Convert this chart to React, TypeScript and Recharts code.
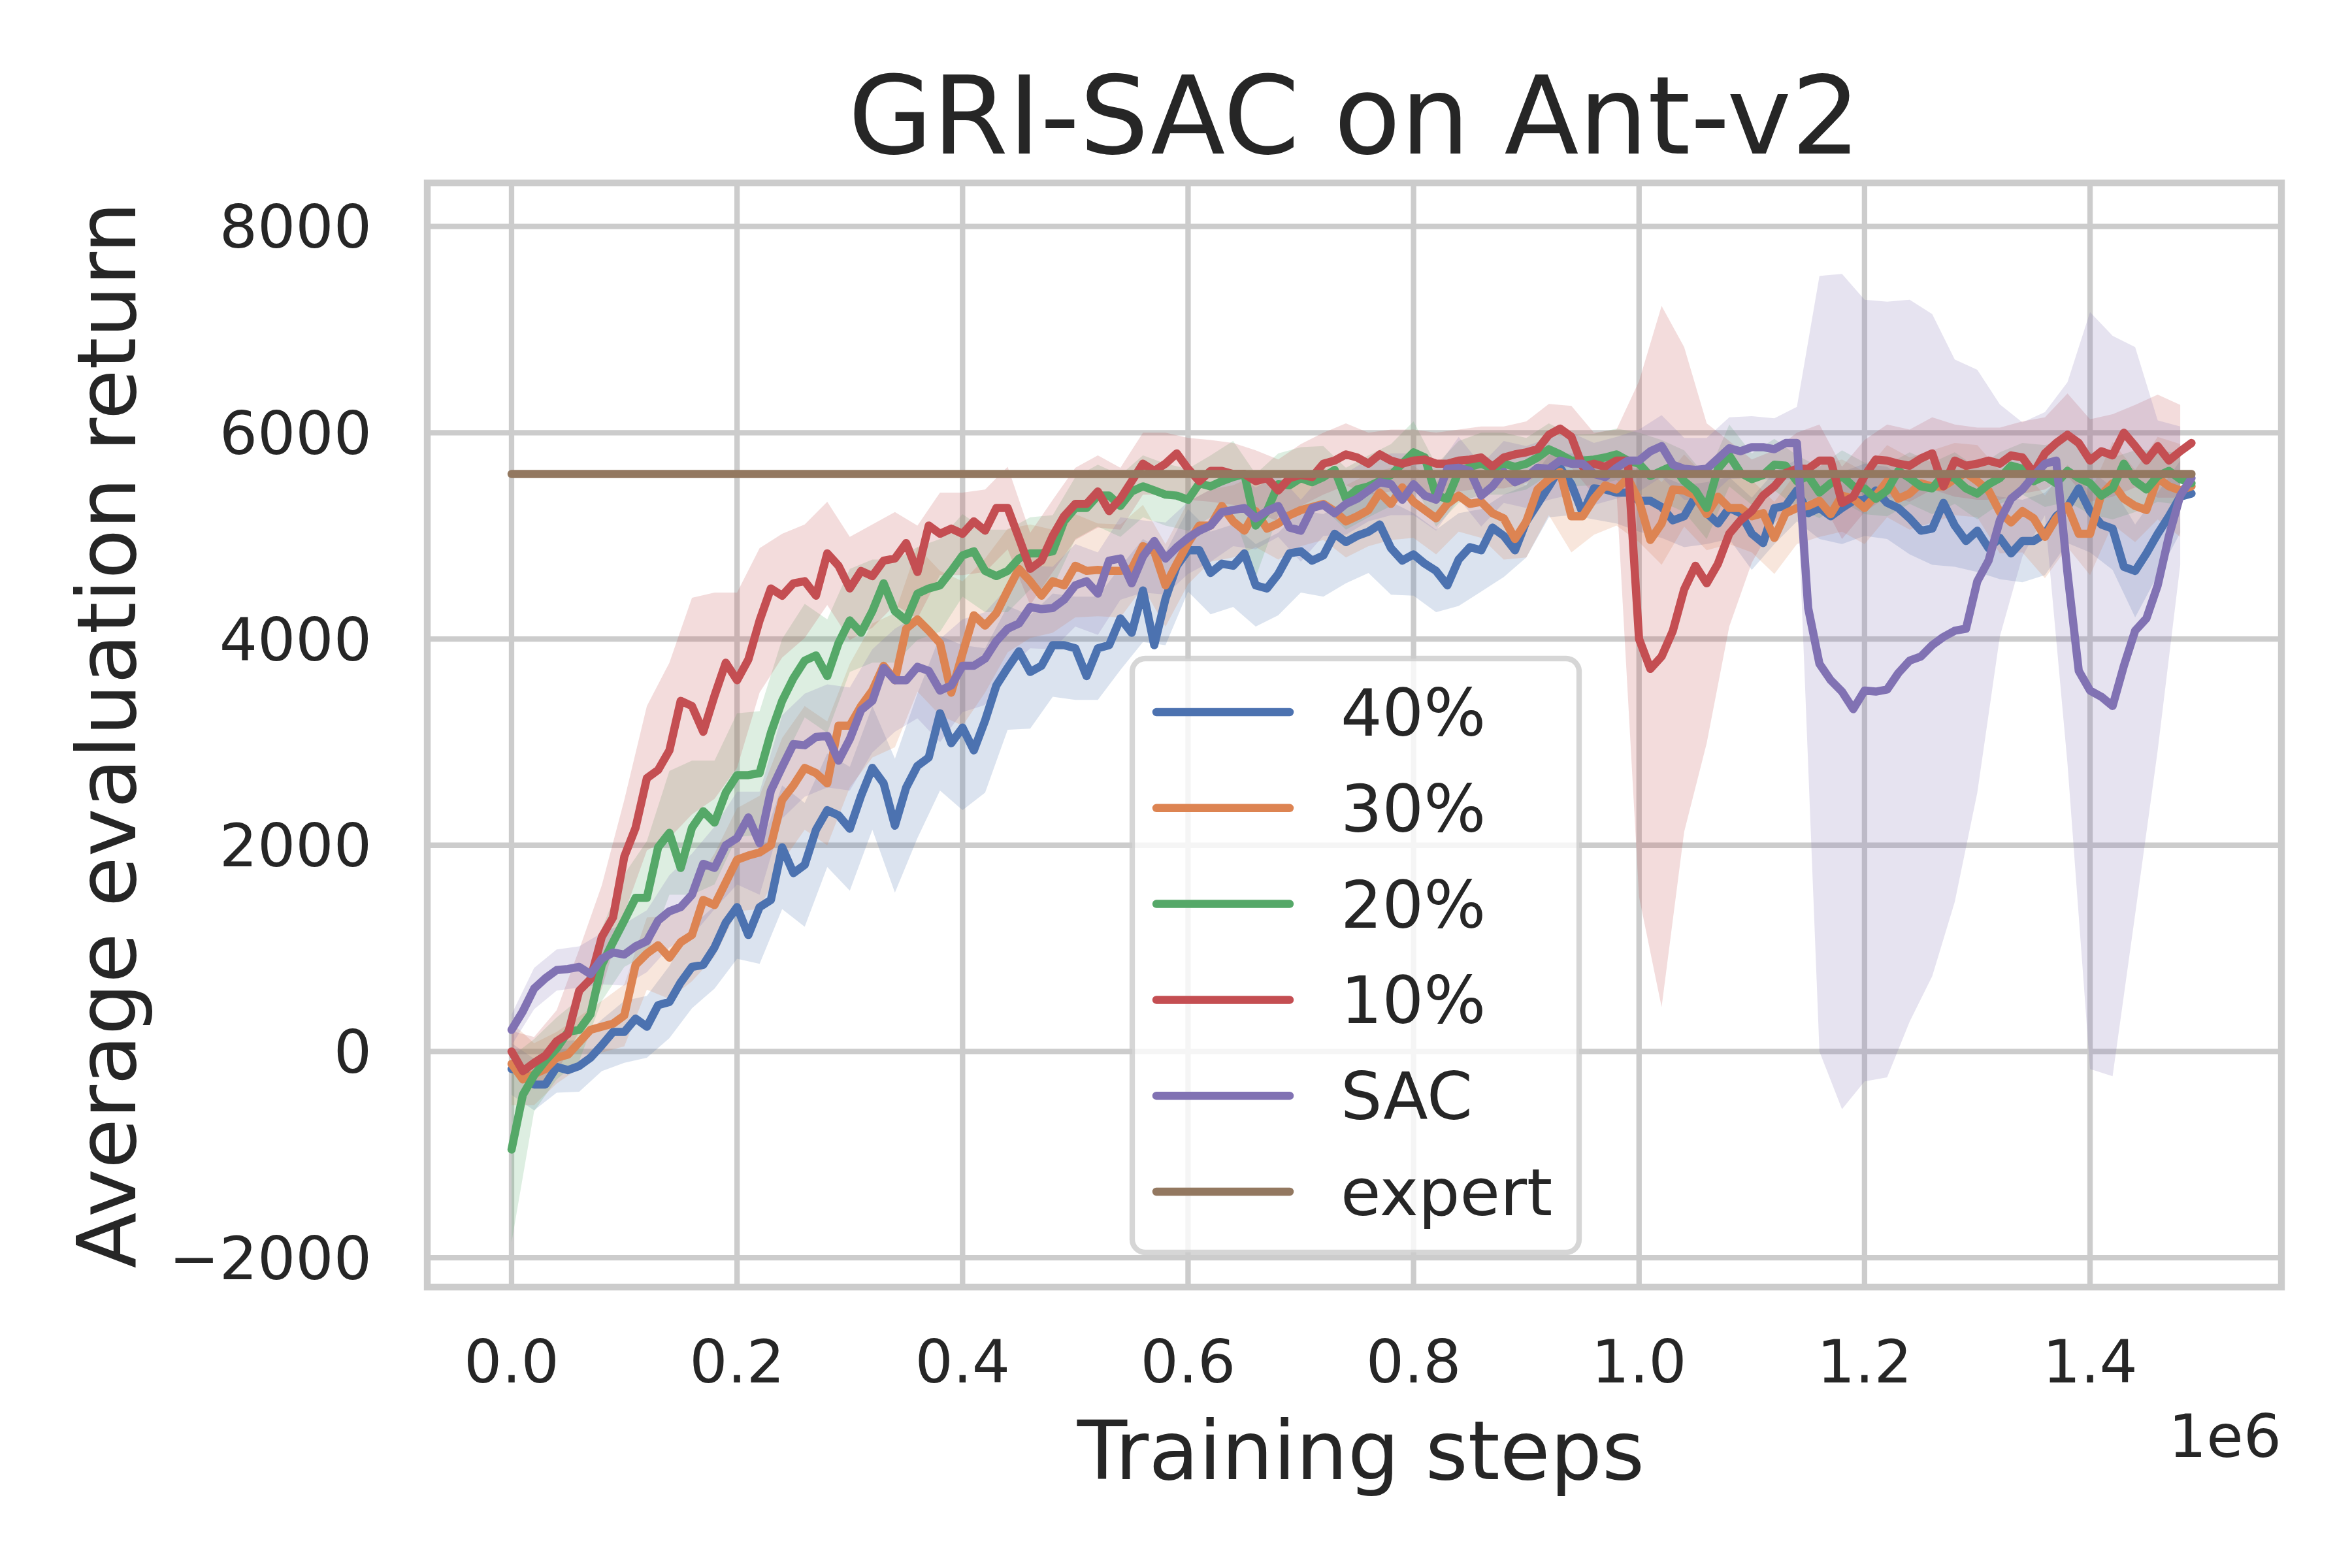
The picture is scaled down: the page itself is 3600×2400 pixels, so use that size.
import { Fragment } from "react";
import { Area, CartesianGrid, ComposedChart, Line, XAxis, YAxis } from "recharts";

// evaluation every 10k steps, 0 .. 1.49e6
const steps = Array.from({ length: 150 }, (_, i) => i * 10000);

const ret40 = [
  -170, -180, -320, -320, -150, -180, -140, -60, 60, 190,
  190, 320, 240, 450, 480, 670, 820, 840, 1010, 1250,
  1400, 1130, 1400, 1470, 1980, 1730, 1810, 2150, 2340, 2290,
  2160, 2480, 2750, 2600, 2190, 2560, 2770, 2850, 3280, 2990,
  3140, 2920, 3210, 3550, 3720, 3880, 3680, 3740, 3940, 3940,
  3910, 3640, 3910, 3940, 4200, 4060, 4470, 3940, 4390, 4710,
  4860, 4860, 4640, 4730, 4710, 4830, 4520, 4490, 4630, 4830,
  4850, 4760, 4810, 5020, 4940, 5000, 5040, 5110, 4880, 4760,
  4820, 4730, 4660, 4520, 4770, 4890, 4860, 5080, 5000, 4860,
  5140, 5310, 5480, 5660, 5500, 5220, 5460, 5450, 5420, 5420,
  5340, 5340, 5280, 5150, 5190, 5380, 5220, 5120, 5270, 5220,
  5020, 4930, 5270, 5290, 5440, 5220, 5270, 5190, 5270, 5340,
  5350, 5440, 5320, 5270, 5170, 5050, 5070, 5320, 5100, 4950,
  5050, 4880, 4980, 4830, 4950, 4950, 5020, 5190, 5280, 5460,
  5240, 5110, 5070, 4700, 4660, 4830, 5020, 5190, 5380, 5410,
];

const ret30 = [
  -120, -270, -220, -170, -60, -30, 90, 210, 240, 270,
  350, 840, 950, 1030, 910, 1060, 1130, 1470, 1420, 1640,
  1860, 1900, 1930, 2000, 2440, 2580, 2750, 2700, 2600, 3160,
  3160, 3350, 3500, 3740, 3600, 4100, 4190, 4080, 3960, 3480,
  3860, 4230, 4130, 4250, 4470, 4680, 4560, 4420, 4560, 4520,
  4710, 4660, 4670, 4660, 4660, 4680, 4900, 4850, 4520, 4730,
  4930, 5100, 5100, 5290, 5140, 5050, 5240, 5070, 5120, 5200,
  5250, 5280, 5310, 5240, 5140, 5190, 5250, 5420, 5310, 5470,
  5330, 5250, 5170, 5310, 5390, 5310, 5330, 5220, 5170, 4970,
  5140, 5450, 5550, 5620, 5190, 5190, 5360, 5490, 5450, 5560,
  5340, 4960, 5120, 5450, 5440, 5390, 5210, 5380, 5270, 5270,
  5190, 5220, 4980, 5220, 5270, 5290, 5340, 5210, 5390, 5360,
  5270, 5390, 5530, 5360, 5410, 5510, 5480, 5480, 5550, 5610,
  5530, 5440, 5230, 5130, 5240, 5170, 4990, 5170, 5290, 5020,
  5020, 5400, 5510, 5360, 5290, 5250, 5560, 5480, 5440, 5480,
];

const ret20 = [
  -950, -420, -230, -90, 30, 190, 210, 360, 840, 1060,
  1270, 1490, 1490, 1980, 2120, 1780, 2170, 2330, 2220, 2510,
  2680, 2680, 2700, 3090, 3400, 3620, 3790, 3840, 3640, 3960,
  4180, 4060, 4270, 4540, 4270, 4180, 4440, 4490, 4520, 4660,
  4810, 4850, 4660, 4610, 4660, 4780, 4830, 4830, 4850, 5140,
  5270, 5270, 5390, 5390, 5290, 5430, 5480, 5440, 5400, 5390,
  5350, 5510, 5480, 5530, 5570, 5600, 5100, 5240, 5500, 5490,
  5560, 5520, 5570, 5640, 5360, 5450, 5480, 5530, 5590, 5700,
  5810, 5760, 5390, 5360, 5620, 5670, 5700, 5650, 5700, 5670,
  5700, 5760, 5840, 5790, 5730, 5730, 5740, 5760, 5790, 5730,
  5700, 5580, 5630, 5680, 5530, 5440, 5270, 5650, 5780, 5610,
  5550, 5590, 5690, 5680, 5530, 5580, 5420, 5510, 5580, 5480,
  5460, 5360, 5440, 5630, 5560, 5480, 5460, 5590, 5560, 5460,
  5410, 5500, 5560, 5680, 5650, 5530, 5580, 5510, 5630, 5560,
  5510, 5390, 5460, 5700, 5530, 5450, 5580, 5630, 5550, 5510,
];

const ret10 = [
  0, -190, -110, -40, 100, 170, 590, 700, 1110, 1300,
  1890, 2170, 2650, 2730, 2920, 3400, 3350, 3100, 3450, 3770,
  3600, 3800, 4180, 4490, 4420, 4540, 4560, 4420, 4830, 4710,
  4490, 4660, 4610, 4760, 4780, 4930, 4650, 5100, 5020, 5070,
  5020, 5140, 5050, 5270, 5270, 4980, 4680, 4760, 5000, 5190,
  5310, 5310, 5430, 5240, 5360, 5530, 5700, 5630, 5700, 5800,
  5650, 5530, 5630, 5630, 5600, 5600, 5530, 5560, 5440, 5560,
  5590, 5570, 5700, 5730, 5790, 5760, 5700, 5790, 5730, 5700,
  5730, 5740, 5700, 5700, 5730, 5740, 5760, 5670, 5760, 5790,
  5810, 5840, 5980, 6040, 5960, 5670, 5700, 5670, 5730, 5730,
  4000, 3710, 3830, 4080, 4480, 4710, 4540, 4730, 5020, 5150,
  5240, 5390, 5480, 5610, 5650, 5650, 5730, 5730, 5320, 5380,
  5580, 5740, 5730, 5700, 5680, 5750, 5800, 5480, 5730, 5680,
  5700, 5730, 5700, 5780, 5760, 5610, 5800, 5900, 5980, 5900,
  5730, 5820, 5780, 6000, 5870, 5730, 5870, 5730, 5820, 5900,
];

const retSac = [
  210, 390, 610, 710, 790, 800, 820, 750, 900, 960,
  940, 1020, 1070, 1270, 1360, 1400, 1520, 1820, 1780, 2000,
  2070, 2270, 2020, 2530, 2760, 2980, 2970, 3050, 3060, 2820,
  3030, 3310, 3400, 3720, 3600, 3600, 3730, 3690, 3500, 3550,
  3740, 3740, 3810, 3980, 4100, 4150, 4310, 4290, 4300, 4380,
  4520, 4560, 4440, 4760, 4780, 4540, 4800, 4950, 4780, 4890,
  4980, 5050, 5100, 5230, 5250, 5270, 5170, 5240, 5290, 5080,
  5050, 5270, 5300, 5220, 5310, 5360, 5440, 5520, 5500, 5350,
  5500, 5390, 5350, 5650, 5660, 5630, 5390, 5480, 5620, 5520,
  5570, 5660, 5650, 5730, 5700, 5700, 5600, 5570, 5660, 5730,
  5730, 5820, 5870, 5690, 5650, 5640, 5650, 5750, 5850, 5820,
  5860, 5860, 5840, 5900, 5900, 4300, 3760, 3600, 3490, 3320,
  3500, 3490, 3510, 3670, 3790, 3830, 3940, 4020, 4080, 4100,
  4560, 4760, 5150, 5360, 5450, 5580, 5700, 5730, 4640, 3690,
  3500, 3440, 3350, 3740, 4080, 4200, 4520, 5000, 5390, 5560,
];

// spread of the seeds, every 20k steps
const sd40 = [
  250, 250, 250, 250, 250, 300, 300, 350, 400, 400,
  500, 550, 600, 600, 550, 600, 600, 650, 700, 750,
  800, 700, 600, 550, 500, 500, 500, 500, 500, 450,
  400, 400, 400, 400, 400, 400, 400, 400, 400, 450,
  400, 400, 450, 400, 400, 350, 300, 300, 300, 300,
  300, 300, 300, 300, 300, 350, 350, 300, 300, 350,
  350, 350, 350, 350, 400, 400, 400, 400, 400, 350,
  400, 400, 450, 400, 350,
];
const sd30 = [
  400, 300, 250, 250, 250, 300, 350, 400, 450, 500,
  500, 550, 600, 600, 600, 600, 650, 650, 700, 700,
  700, 650, 600, 550, 500, 500, 450, 450, 400, 400,
  400, 350, 350, 350, 350, 350, 350, 350, 350, 350,
  350, 350, 350, 350, 400, 350, 350, 350, 350, 350,
  400, 400, 350, 350, 350, 350, 350, 350, 350, 350,
  350, 350, 350, 350, 350, 350, 400, 400, 400, 400,
  400, 400, 350, 400, 450,
];
const sd20 = [
  900, 350, 300, 300, 350, 450, 550, 600, 650, 600,
  600, 600, 600, 550, 550, 500, 500, 500, 450, 450,
  400, 400, 400, 350, 350, 300, 300, 300, 300, 300,
  300, 300, 350, 500, 300, 300, 300, 300, 300, 300,
  300, 300, 300, 300, 300, 250, 250, 250, 250, 250,
  300, 300, 300, 300, 300, 250, 250, 250, 250, 250,
  250, 250, 250, 250, 250, 250, 250, 250, 300, 300,
  300, 300, 300, 250, 250,
];
const sd10 = [
  200, 250, 300, 400, 500, 550, 700, 850, 1050, 1000,
  850, 700, 600, 550, 500, 500, 500, 450, 450, 400,
  400, 400, 400, 350, 350, 350, 350, 300, 300, 300,
  300, 300, 300, 300, 300, 300, 300, 300, 300, 300,
  300, 300, 300, 300, 300, 300, 300, 300, 300, 300,
  2500, 3400, 2350, 1550, 900, 500, 350, 350, 350, 350,
  350, 350, 350, 350, 350, 350, 350, 350, 350, 400,
  400, 400, 400, 500, 450,
];
const sdSac = [
  150, 200, 200, 200, 250, 300, 300, 350, 400, 400,
  450, 500, 500, 500, 500, 500, 500, 500, 500, 500,
  450, 450, 400, 400, 400, 400, 400, 400, 350, 350,
  350, 350, 350, 300, 300, 300, 300, 300, 300, 300,
  300, 300, 300, 300, 300, 300, 300, 300, 300, 300,
  300, 300, 300, 300, 300, 300, 300, 350, 3760, 4050,
  3790, 3760, 3500, 3210, 2630, 2050, 1125, 650, 500, 1850,
  3670, 3590, 2750, 1600, 670,
];

const expertReturn = 5600;

const seriesNames = ["40%", "30%", "20%", "10%", "SAC"];
const seriesColors = ["#4c72b0", "#dd8452", "#55a868", "#c44e52", "#8172b3"];
const expertColor = "#937860";
const means = [ret40, ret30, ret20, ret10, retSac];
const spreads = [sd40, sd30, sd20, sd10, sdSac];

const xTicks = [0, 200000, 400000, 600000, 800000, 1000000, 1200000, 1400000];
const yTicks = [-2000, 0, 2000, 4000, 6000, 8000];

const rows = steps.map((x, i) => {
  const row: Record<string, number | number[]> = { x, expert: expertReturn };
  means.forEach((m, j) => {
    row[`m${j}`] = m[i];
    if (i % 2 === 0) {
      const sd = spreads[j][i / 2];
      row[`b${j}`] = [m[i] - sd, m[i] + sd];
    }
  });
  return row;
});

const FONT = "DejaVu Sans";
const INK = "#262626";
const LW = 12.5;

// plot box, in page pixels
const PLOT = { left: 654, top: 280, right: 3492, bottom: 1970 };
const legendItems = [
  ...seriesNames.map((name, j) => ({ name, color: seriesColors[j] })),
  { name: "expert", color: expertColor },
];

const fmtX = (v: number) => (v / 1e6).toFixed(1);
const fmtY = (v: number) => (v < 0 ? `\u2212${Math.abs(v)}` : `${v}`);

export default function App() {
  const cx = (PLOT.left + PLOT.right) / 2;
  const cy = (PLOT.top + PLOT.bottom) / 2;
  return (
    <div style={{ position: "absolute", left: 0, top: 0, width: 3600, height: 2400, background: "#fff" }}>
      <ComposedChart
        width={3600}
        height={2400}
        data={rows}
        margin={{ top: PLOT.top, right: 3600 - PLOT.right, bottom: 2400 - PLOT.bottom - 200, left: PLOT.left - 200 }}
      >
        <CartesianGrid stroke="#cccccc" strokeWidth={8.3} />
        <XAxis
          dataKey="x"
          type="number"
          domain={[-74750, 1569750]}
          allowDataOverflow
          ticks={xTicks}
          tickFormatter={fmtX}
          height={200}
          tickSize={0}
          tickMargin={81}
          axisLine={false}
          tickLine={false}
          tick={{ fontSize: 91.7, fill: INK, fontFamily: FONT }}
        />
        <YAxis
          type="number"
          domain={[-2284, 8422]}
          allowDataOverflow
          ticks={yTicks}
          tickFormatter={fmtY}
          width={200}
          tickSize={0}
          tickMargin={85}
          axisLine={false}
          tickLine={false}
          tick={{ fontSize: 91.7, fill: INK, fontFamily: FONT }}
        />
        {seriesNames.map((name, j) => (
          <Fragment key={name}>
            <Area
              dataKey={`b${j}`}
              type="linear"
              fill={seriesColors[j]}
              fillOpacity={0.2}
              stroke="none"
              connectNulls
              dot={false}
              activeDot={false}
              legendType="none"
              isAnimationActive={false}
            />
            <Line
              dataKey={`m${j}`}
              name={name}
              type="linear"
              stroke={seriesColors[j]}
              strokeWidth={LW}
              strokeLinejoin="round"
              strokeLinecap="round"
              dot={false}
              activeDot={false}
              isAnimationActive={false}
            />
          </Fragment>
        ))}
        <Line
          dataKey="expert"
          name="expert"
          type="linear"
          stroke={expertColor}
          strokeWidth={LW}
          strokeLinecap="round"
          dot={false}
          activeDot={false}
          isAnimationActive={false}
        />
      </ComposedChart>

      <svg
        width={3600}
        height={2400}
        style={{ position: "absolute", left: 0, top: 0, pointerEvents: "none" }}
        fontFamily={FONT}
        fill={INK}
      >
        <rect
          x={PLOT.left}
          y={PLOT.top}
          width={PLOT.right - PLOT.left}
          height={PLOT.bottom - PLOT.top}
          fill="none"
          stroke="#cccccc"
          strokeWidth={10.4}
        />
        <text x={cx} y={235} fontSize={166.7} textAnchor="middle">
          GRI-SAC on Ant-v2
        </text>
        <text x={cx + 10} y={2264} fontSize={125} textAnchor="middle">
          Training steps
        </text>
        <text x={207} y={cy} fontSize={125} textAnchor="middle" transform={`rotate(-90 207 ${cy})`}>
          Average evaluation return
        </text>
        <text x={PLOT.right} y={2230} fontSize={91.7} textAnchor="end">
          1e6
        </text>

        <rect
          x={1733}
          y={1008}
          width={684}
          height={909}
          rx={20}
          fill="#ffffff"
          fillOpacity={0.8}
          stroke="#cccccc"
          strokeOpacity={0.8}
          strokeWidth={8.3}
        />
        {legendItems.map((item, k) => {
          const y = 1090 + k * 146.8;
          return (
            <g key={item.name}>
              <line x1={1770} x2={1974} y1={y} y2={y} stroke={item.color} strokeWidth={LW} strokeLinecap="round" />
              <text x={2052} y={y + 36} fontSize={100}>
                {item.name}
              </text>
            </g>
          );
        })}
      </svg>
    </div>
  );
}
